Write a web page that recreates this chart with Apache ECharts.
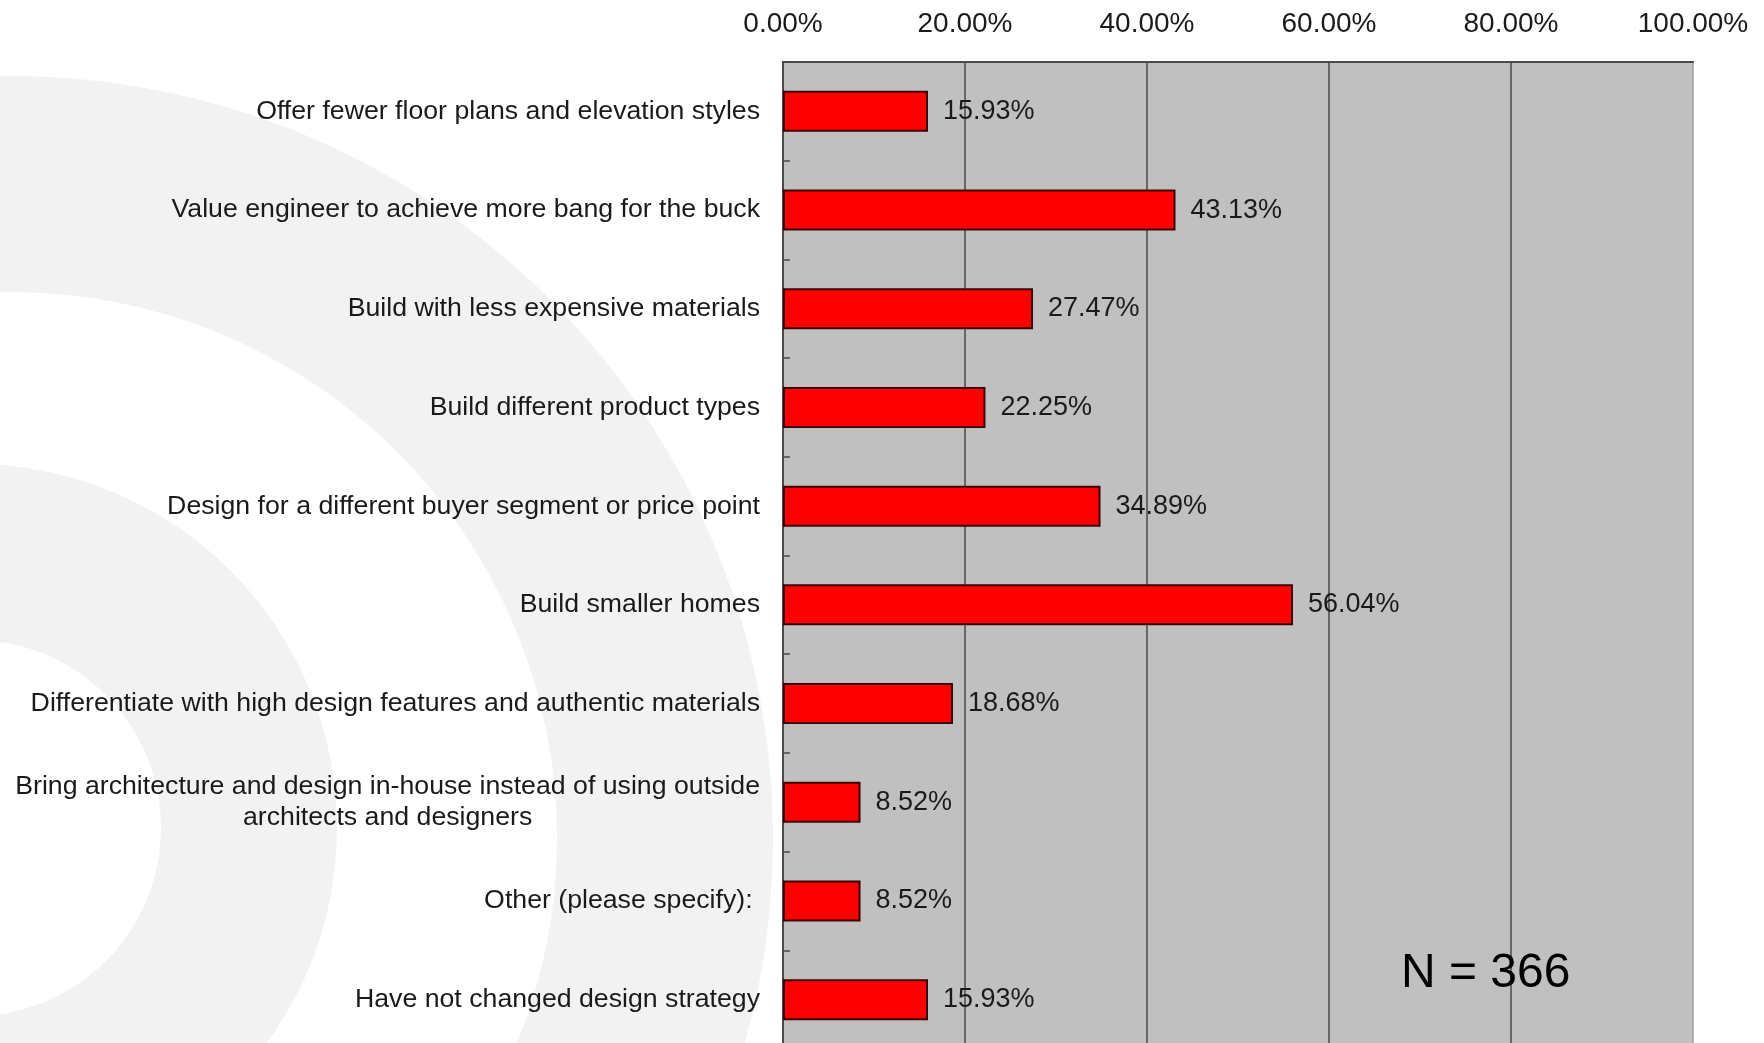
<!DOCTYPE html>
<html>
<head>
<meta charset="utf-8">
<title>Design strategy changes</title>
<script src="https://cdn.jsdelivr.net/npm/echarts@6/dist/echarts.min.js"></script>
<style>
  html, body { margin: 0; padding: 0; background: #ffffff; }
  #chart { width: 1764px; height: 1043px; }
</style>
</head>
<body>
<div id="chart"></div>
<script>
// Survey answers, listed top to bottom
const categories = [
  'Offer fewer floor plans and elevation styles',
  'Value engineer to achieve more bang for the buck',
  'Build with less expensive materials',
  'Build different product types',
  'Design for a different buyer segment or price point',
  'Build smaller homes',
  'Differentiate with high design features and authentic materials',
  'Bring architecture and design in-house instead of using outside\narchitects and designers',
  'Other (please specify): ',
  'Have not changed design strategy'
];

// Share of respondents (%)
const values = [15.93, 43.13, 27.47, 22.25, 34.89, 56.04, 18.68, 8.52, 8.52, 15.93];

// Percent axis range
const axisMin = 0;
const axisMax = 100;
const axisStep = 20;

const sampleNote = 'N = 366';

const FONT = "'Liberation Sans', Arial, Helvetica, sans-serif";

const chart = echarts.init(document.getElementById('chart'), null, { renderer: 'canvas' });

chart.setOption({
  animation: false,
  backgroundColor: '#ffffff',
  textStyle: { fontFamily: FONT },
  title: {
    text: sampleNote,
    left: 1396,
    top: 945,
    textStyle: { fontFamily: FONT, fontSize: 48, fontWeight: 'normal', color: '#000000' }
  },
  // decorative concentric bands behind the labels
  graphic: [
    {
      type: 'ring', z: -10, silent: true,
      shape: { cx: 11, cy: 838, r: 762, r0: 546 },
      style: { fill: '#f2f2f2' }
    },
    {
      type: 'ring', z: -10, silent: true,
      shape: { cx: -27, cy: 828, r: 364, r0: 188 },
      style: { fill: '#f2f2f2' }
    }
  ],
  grid: {
    left: 783,
    right: 71,
    top: 62,
    height: 987,
    outerBoundsMode: 'none',
    show: true,
    backgroundColor: '#c0c0c0',
    borderColor: '#a3a3a3',
    borderWidth: 1.5,
    containLabel: false
  },
  xAxis: {
    type: 'value',
    position: 'top',
    min: axisMin,
    max: axisMax,
    interval: axisStep,
    axisLine: { show: true, lineStyle: { color: '#4a4a4a', width: 2 } },
    axisTick: { show: false },
    axisLabel: {
      margin: 24,
      fontSize: 28,
      color: '#1a1a1a',
      fontFamily: FONT,
      formatter: v => v.toFixed(2) + '%'
    },
    splitLine: {
      show: true,
      showMaxLine: false,
      lineStyle: { color: '#4a4a4a', width: 1.5 }
    }
  },
  yAxis: {
    type: 'category',
    data: categories,
    inverse: true,
    axisLine: { show: true, lineStyle: { color: '#4a4a4a', width: 2 } },
    axisTick: { show: true, inside: true, length: 7, lineStyle: { color: '#4a4a4a', width: 1.5 } },
    splitLine: { show: false },
    axisLabel: {
      margin: 23,
      fontSize: 26.7,
      color: '#1a1a1a',
      fontFamily: FONT,
      lineHeight: 31,
      formatter: v => v.split('\n').map(s => '{c|' + s + '}').join('\n'),
      rich: {
        c: { align: 'center', fontSize: 26.7, color: '#1a1a1a', fontFamily: FONT, lineHeight: 31 }
      }
    }
  },
  series: [
    {
      type: 'bar',
      data: values,
      barWidth: 41,
      itemStyle: { color: '#ff0000', borderColor: '#3d0000', borderWidth: 2 },
      label: {
        show: true,
        position: 'right',
        distance: 15,
        fontSize: 27,
        color: '#1a1a1a',
        fontFamily: FONT,
        formatter: p => p.value.toFixed(2) + '%'
      }
    }
  ]
});
</script>
</body>
</html>
